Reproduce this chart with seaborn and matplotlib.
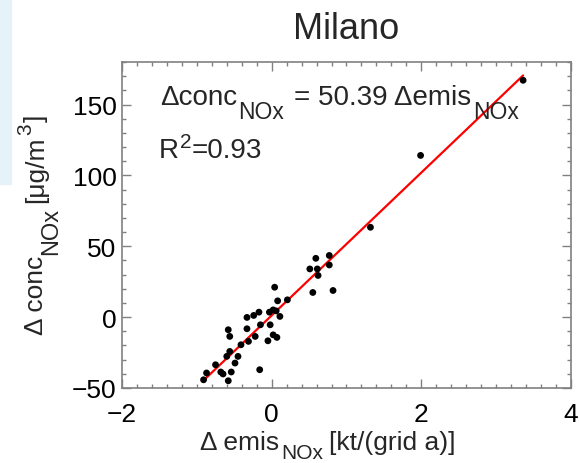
import matplotlib
matplotlib.use('Agg')
import matplotlib.pyplot as plt
import matplotlib.patches as mpatches
from matplotlib.font_manager import FontProperties
from matplotlib.ticker import MultipleLocator
import numpy as np
import pandas as pd
import seaborn as sns

# Delta emissions (kt/(grid a)) and delta concentrations (ug/m3)
d_emis = [-0.91, -0.87, -0.75, -0.68, -0.58, -0.54, -0.65, -0.60, -0.56, -0.49,
          -0.45, -0.58, -0.56, -0.41, -0.33, -0.31, -0.33, -0.24, -0.17, -0.22,
          -0.16, -0.15, -0.05, -0.02, -0.03, 0.02, 0.06, 0.02, 0.07, 0.11,
          0.04, 0.08, 0.21, 0.59, 0.51, 0.61, 0.62, 0.55, 0.77, 0.77,
          0.82, 1.32, 1.99, 3.36]
d_conc = [-44.2, -39.4, -33.6, -38.7, -44.9, -38.7, -40.1, -27.7, -24.2, -32.4,
          -27.7, -8.9, -13.6, -19.5, -8.2, -17.1, -0.2, 1.2, 3.5, -13.6,
          -37.1, -5.4, -16.7, -5.4, 3.5, 5.1, 4.4, -12.5, -14.3, 0.5,
          21.1, 11.5, 12.2, 41.5, 34.0, 34.0, 29.4, 17.4, 43.5, 36.8,
          18.8, 63.4, 114.1, 167.1]

# regression shown on the chart
fit_slope = 50.39
fit_intercept = 1.2
fit_r2 = 0.93

df = pd.DataFrame({'emis': d_emis, 'conc': d_conc})
line_x = np.array([min(d_emis), max(d_emis)])
fit = pd.DataFrame({'emis': line_x, 'conc': fit_slope * line_x + fit_intercept})

sns.set_style('ticks')
FONT = ['Liberation Sans', 'DejaVu Sans']
plt.rcParams['font.family'] = FONT

W, H = 579, 464
fig = plt.figure(figsize=(W / 100, H / 100), dpi=100)
fig.patches.append(mpatches.Rectangle((0, 1 - 185 / H), 11 / W, 185 / H,
                                      transform=fig.transFigure, color='#e6f2fa',
                                      zorder=0))
ax = fig.add_axes([122 / W, 1 - 389 / H, 449 / W, 326 / H])

sns.lineplot(data=fit, x='emis', y='conc', color='red', linewidth=1.6, ax=ax, zorder=2)
sns.scatterplot(data=df, x='emis', y='conc', color='black', s=24, edgecolor='none',
                ax=ax, zorder=3)

ax.set_xlim(-2, 4)
ax.set_ylim(-50, 180)
ax.xaxis.set_major_locator(MultipleLocator(2))
ax.xaxis.set_minor_locator(MultipleLocator(0.2))
ax.yaxis.set_major_locator(MultipleLocator(50))
ax.yaxis.set_minor_locator(MultipleLocator(10))
ax.tick_params(which='both', direction='in', top=True, right=True,
               color='#808080', labelsize=19, labelcolor='black')
ax.tick_params(which='major', length=6.5, width=1)
ax.tick_params(which='minor', length=3, width=1)
ax.tick_params(axis='x', pad=10)
ax.tick_params(axis='y', pad=4)
for sp in ax.spines.values():
    sp.set_color('#808080')
    sp.set_linewidth(1.2)
ax.set_xlabel('')
ax.set_ylabel('')
ax.set_title('Milano', fontsize=26, pad=17)

renderer = fig.canvas.get_renderer()


def put_pieces(x0, y0, pieces, rotation=0):
    # pieces: (text, fontsize, baseline shift px, gap px before); y0 from top
    ang = np.deg2rad(rotation)
    d = np.array([np.cos(ang), np.sin(ang)])
    n = np.array([-np.sin(ang), np.cos(ang)])
    start = np.array([x0, H - y0])
    pos = 0.0
    for s, size, shift, gap in pieces:
        pos += gap
        prop = FontProperties(family=FONT, size=size)
        w, _, _ = renderer.get_text_width_height_descent(s, prop, ismath=False)
        p = start + d * pos + n * shift
        fig.text(p[0] / W, p[1] / H, s, fontproperties=prop, rotation=rotation,
                 rotation_mode='anchor', ha='left', va='baseline')
        pos += w


# equation and R^2 with IDL-like large subscripts
put_pieces(160, 105, [('Δconc', 20, 0, 0), ('NOx', 16.5, -14, 1),
                      ('= %.2f Δemis' % fit_slope, 20, 0, 10), ('NOx', 16.5, -14, 2)])
put_pieces(159, 158, [('R', 20, 0, 0), ('2', 15, 10, 1), ('=%.2f' % fit_r2, 20, 0, 0)])

# axis labels
put_pieces(200, 450, [('Δ emis', 19, 0, 0), ('NOx', 15, -9, 2),
                      ('[kt/(grid a)]', 19, 0, 6)])
put_pieces(43, 335, [('Δ conc', 19, 0, 0), ('NOx', 17, -14, 1),
                     ('[μg/m', 19, 0, 5), ('3', 15, 12, 1), (']', 19, 0, 1)],
           rotation=90)

fig.savefig('out.png', dpi=100)
